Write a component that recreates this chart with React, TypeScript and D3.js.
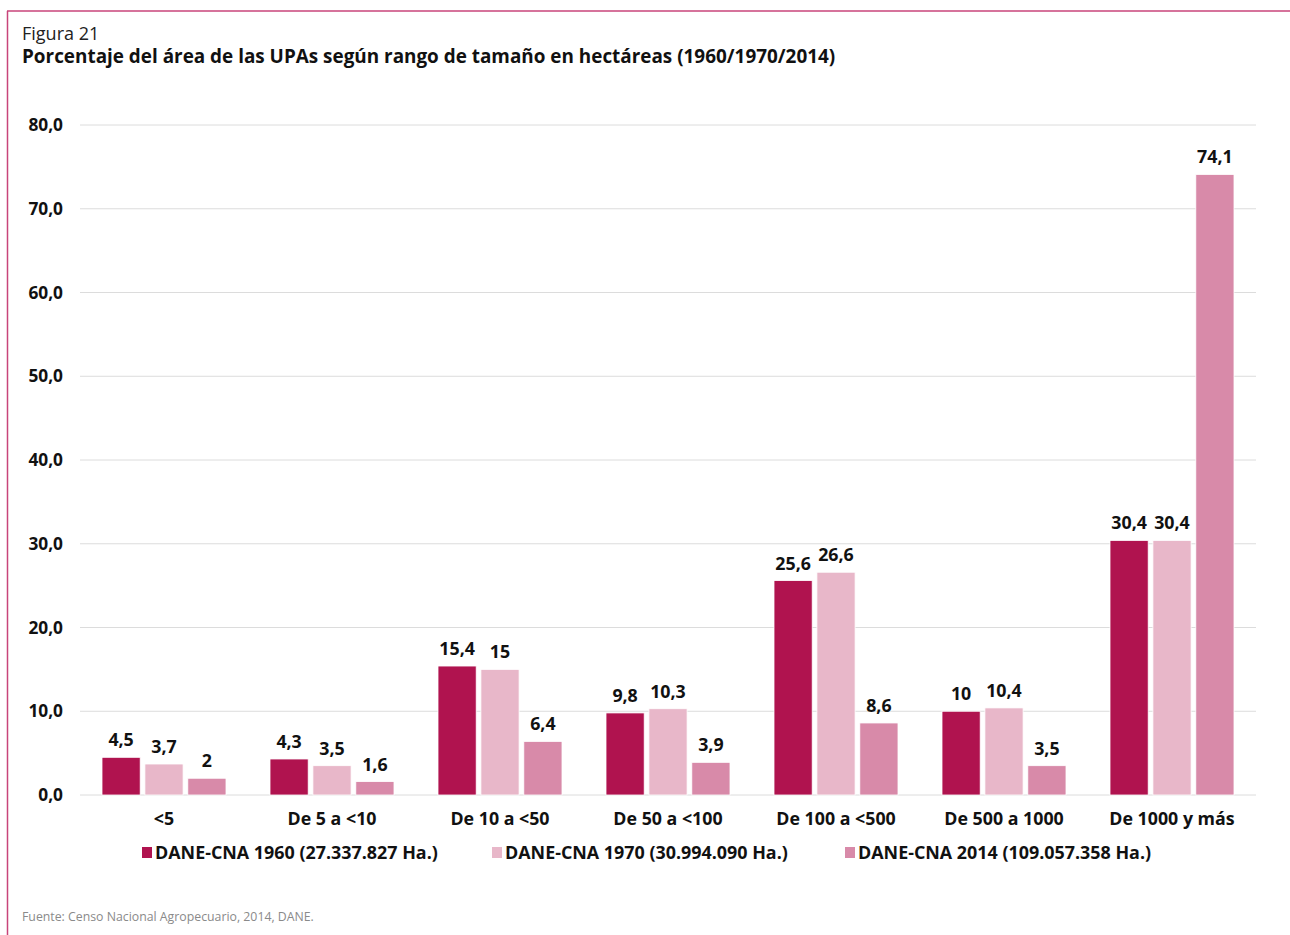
import React from 'react';
import * as d3 from 'd3';

// Data
const categories = ['<5', 'De 5 a <10', 'De 10 a <50', 'De 50 a <100', 'De 100 a <500', 'De 500 a 1000', 'De 1000 y más'];
const series = ['DANE-CNA 1960 (27.337.827 Ha.)', 'DANE-CNA 1970 (30.994.090 Ha.)', 'DANE-CNA 2014 (109.057.358 Ha.)'];
const values1960 = [4.5, 4.3, 15.4, 9.8, 25.6, 10, 30.4];
const values1970 = [3.7, 3.5, 15, 10.3, 26.6, 10.4, 30.4];
const values2014 = [2, 1.6, 6.4, 3.9, 8.6, 3.5, 74.1];
const labels1960 = ['4,5', '4,3', '15,4', '9,8', '25,6', '10', '30,4'];
const labels1970 = ['3,7', '3,5', '15', '10,3', '26,6', '10,4', '30,4'];
const labels2014 = ['2', '1,6', '6,4', '3,9', '8,6', '3,5', '74,1'];
const yTicks = [0, 10, 20, 30, 40, 50, 60, 70, 80];
const colors = ['#b0134f', '#e8b7c9', '#d88aa9'];

const W = 1290;
const H = 935;
const font = '"Open Sans", "Noto Sans", sans-serif';

const App = () => {
  const x = d3.scaleBand<string>().domain(categories).range([80, 1256]).paddingInner(0).paddingOuter(0);
  const y = d3.scaleLinear().domain([0, 80]).range([795, 125]);
  const inner = d3.scaleBand<string>().domain(['0', '1', '2']).range([22, x.bandwidth() - 22]).paddingInner(0.11);

  const allValues = [values1960, values1970, values2014];
  const allLabels = [labels1960, labels1970, labels2014];
  const legendX = [142, 492, 845];

  return (
    <svg width={W} height={H} style={{ position: 'absolute', left: 0, top: 0, background: '#fff' }} fontFamily={font}>
      <rect x={0} y={0} width={W} height={H} fill="#fff" />
      {/* frame */}
      <line x1={7} y1={11} x2={W} y2={11} stroke="#c8447a" strokeWidth={1.5} />
      <line x1={7.5} y1={11} x2={7.5} y2={H} stroke="#c8447a" strokeWidth={1.5} />

      <text x={22} y={40} fontSize={18} fill="#222">Figura 21</text>
      <text x={22} y={63} fontSize={18.9} fontWeight="bold" fill="#111">
        Porcentaje del área de las UPAs según rango de tamaño en hectáreas (1960/1970/2014)
      </text>

      {/* grid + y labels */}
      {yTicks.map(t => (
        <g key={t}>
          <line x1={80} x2={1256} y1={y(t)} y2={y(t)} stroke="#dcdcdc" strokeWidth={1} />
          <text x={63} y={y(t) + 6} fontSize={17.3} fontWeight="bold" textAnchor="end" fill="#111">
            {t.toFixed(1).replace('.', ',')}
          </text>
        </g>
      ))}

      {/* bars */}
      {categories.map((c, i) => (
        <g key={c} transform={`translate(${x(c)},0)`}>
          {allValues.map((vals, s) => {
            const bx = inner(String(s)) || 0;
            return (
              <g key={s}>
                <rect x={bx} y={y(vals[i])} width={inner.bandwidth()} height={y(0) - y(vals[i])}
                  fill={colors[s]} stroke="#fff" strokeWidth={0.8} />
                <text x={bx + inner.bandwidth() / 2} y={y(vals[i]) - 11} fontSize={17.8} fontWeight="bold"
                  textAnchor="middle" fill="#111">{allLabels[s][i]}</text>
              </g>
            );
          })}
          <text x={x.bandwidth() / 2} y={825} fontSize={17.8} fontWeight="bold" textAnchor="middle" fill="#111">{c}</text>
        </g>
      ))}

      {/* legend */}
      {series.map((s, i) => (
        <g key={s}>
          <rect x={legendX[i]} y={847} width={10} height={11} fill={colors[i]} />
          <text x={legendX[i] + 13} y={859} fontSize={17.9} fontWeight="bold" fill="#111">{s}</text>
        </g>
      ))}

      <text x={22} y={921} fontSize={12.3} fill="#8a8a8a">Fuente: Censo Nacional Agropecuario, 2014, DANE.</text>
    </svg>
  );
};

export default App;
